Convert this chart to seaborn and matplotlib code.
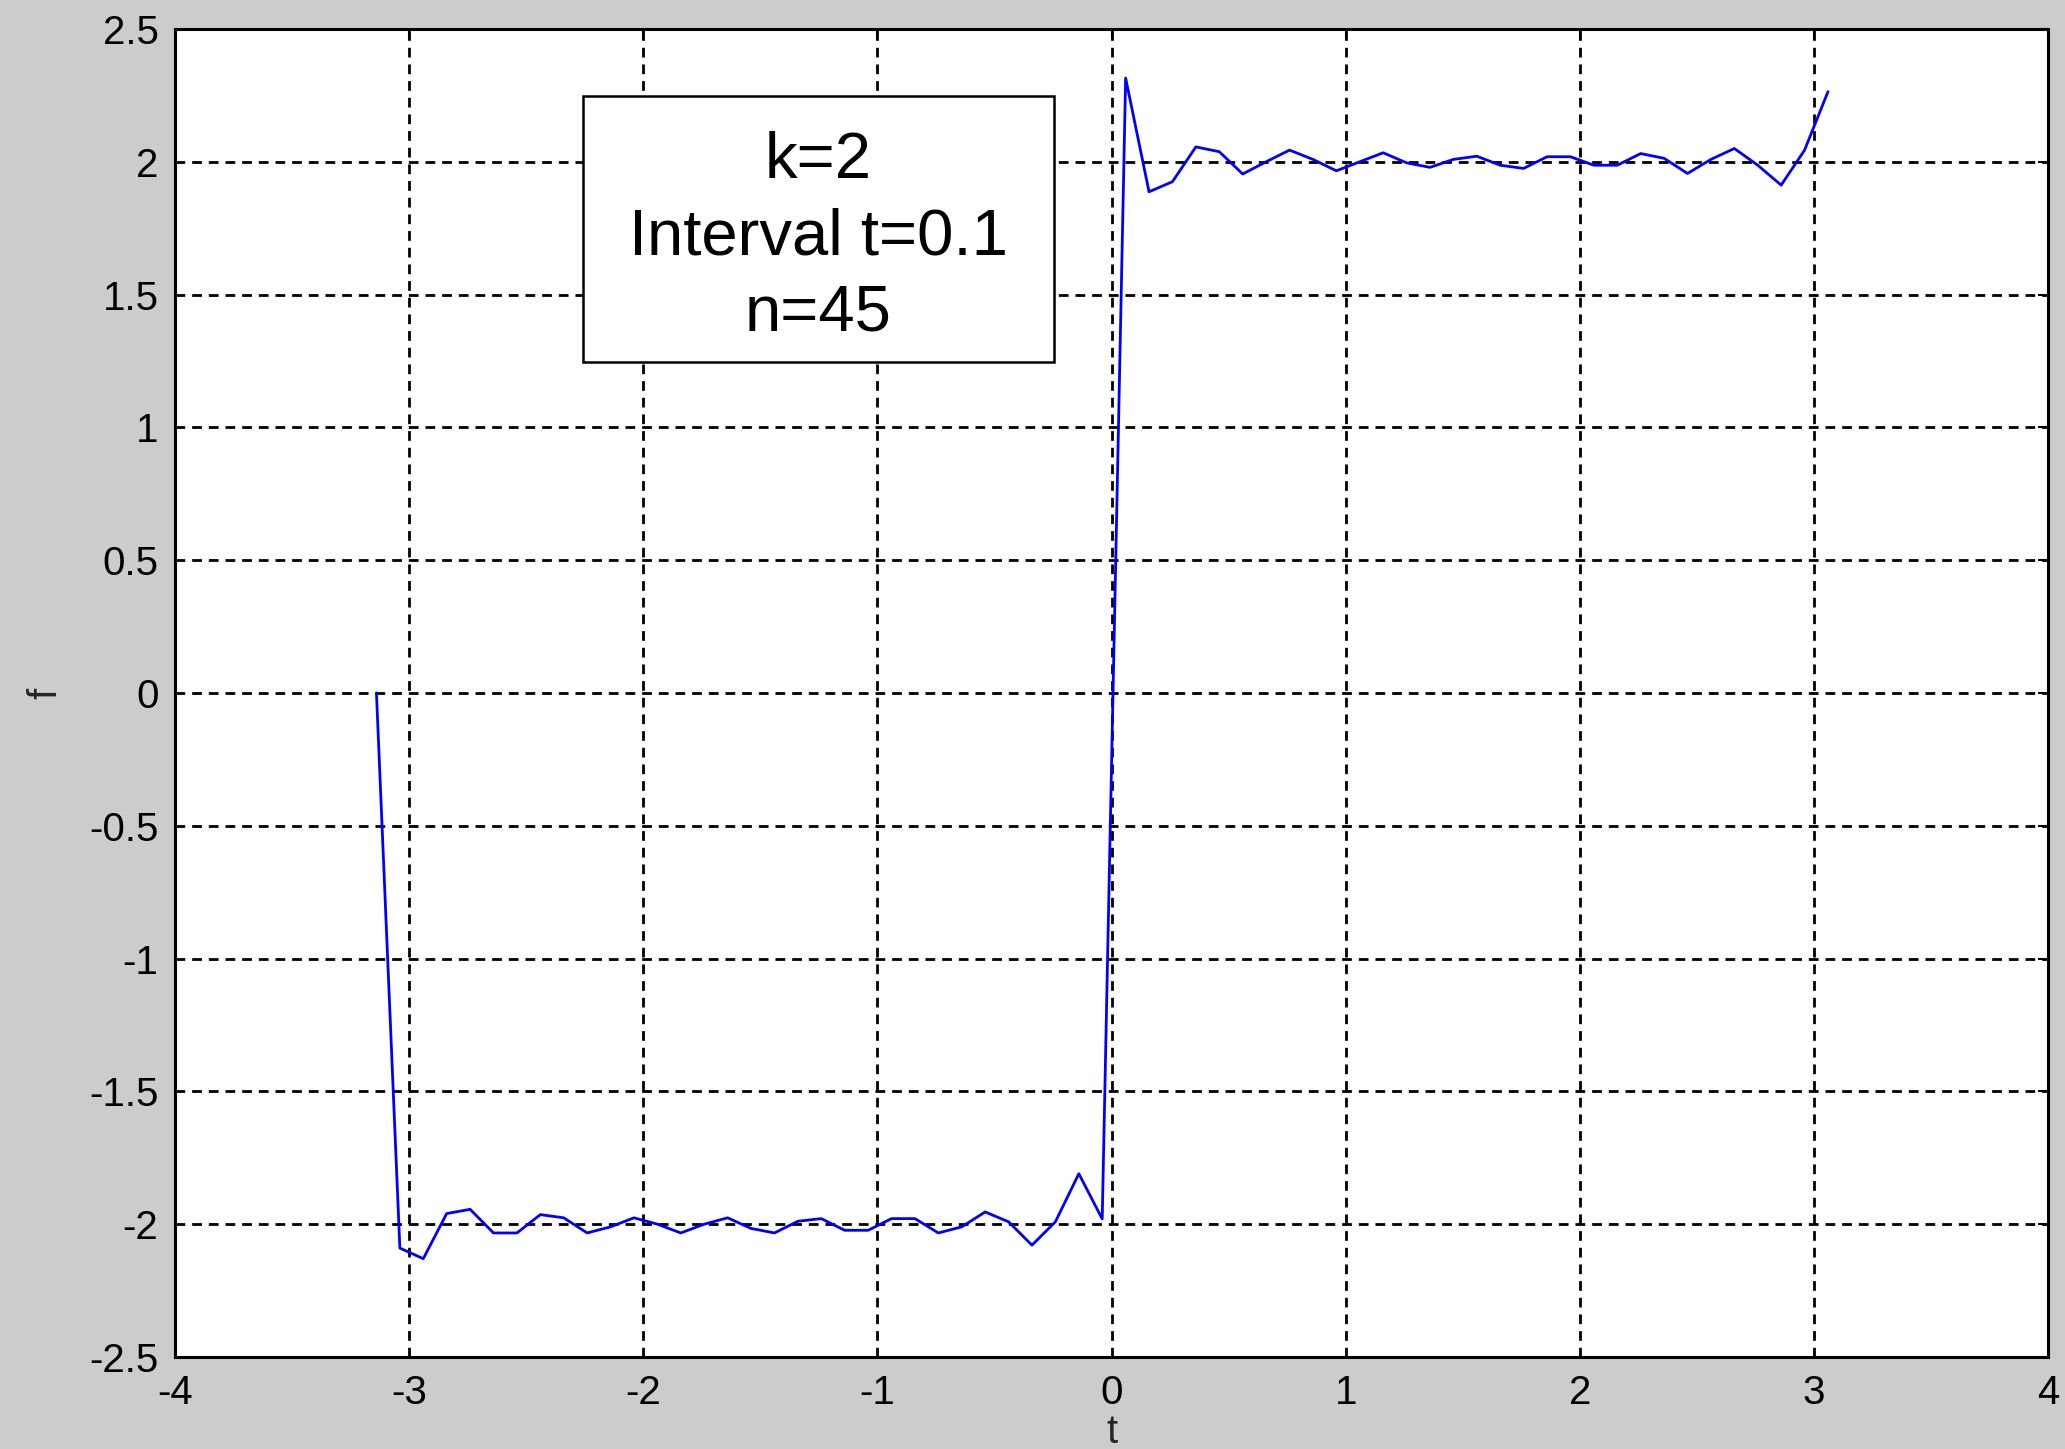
import matplotlib
matplotlib.use("Agg")
import matplotlib.pyplot as plt
import matplotlib.patches as mpatches
import seaborn as sns
import pandas as pd

# ---- data ----
t_values = [-3.14, -3.04, -2.94, -2.84, -2.74, -2.64, -2.54, -2.44, -2.34, -2.24,
            -2.14, -2.04, -1.94, -1.84, -1.74, -1.64, -1.54, -1.44, -1.34, -1.24,
            -1.14, -1.04, -0.94, -0.84, -0.74, -0.64, -0.54, -0.44, -0.34, -0.24,
            -0.14, -0.04, 0.06, 0.16, 0.26, 0.36, 0.46, 0.56, 0.66, 0.76,
            0.86, 0.96, 1.06, 1.16, 1.26, 1.36, 1.46, 1.56, 1.66, 1.76,
            1.86, 1.96, 2.06, 2.16, 2.26, 2.36, 2.46, 2.56, 2.66, 2.76,
            2.86, 2.96, 3.06]
f_values = [0.0, -2.09, -2.13, -1.96, -1.944, -2.033, -2.033, -1.964, -1.976, -2.033,
            -2.01, -1.976, -2.0, -2.033, -2.0, -1.976, -2.016, -2.033, -1.989, -1.979,
            -2.023, -2.023, -1.979, -1.979, -2.033, -2.01, -1.954, -1.991, -2.079, -1.991,
            -1.81, -1.98, 2.315, 1.887, 1.925, 2.056, 2.038, 1.954, 2.0, 2.044,
            2.009, 1.966, 2.0, 2.034, 1.996, 1.979, 2.009, 2.021, 1.987, 1.975,
            2.019, 2.019, 1.987, 1.987, 2.031, 2.013, 1.956, 2.009, 2.05, 1.987,
            1.912, 2.044, 2.264]
x_ticks = [-4, -3, -2, -1, 0, 1, 2, 3, 4]
y_ticks = [-2.5, -2, -1.5, -1, -0.5, 0, 0.5, 1, 1.5, 2, 2.5]
y_tick_labels = ["-2.5", "-2", "-1.5", "-1", "-0.5", "0", "0.5", "1", "1.5", "2", "2.5"]
x_tick_labels = ["-4", "-3", "-2", "-1", "0", "1", "2", "3", "4"]
annotation_lines = ["k=2", "Interval t=0.1", "n=45"]

df = pd.DataFrame({"t": t_values, "f": f_values})

sns.set_style("white")
plt.rcParams["font.family"] = ["Liberation Sans Narrow", "Liberation Sans", "DejaVu Sans"]
plt.rcParams["axes.unicode_minus"] = False

fig = plt.figure(figsize=(20.65, 14.49), dpi=100, facecolor="#cccccc")
ax = fig.add_axes([0.0848, 0.0635, 0.9918 - 0.0848, 0.980 - 0.0635])
ax.set_facecolor("white")

sns.lineplot(data=df, x="t", y="f", ax=ax, color="#0000ff", linewidth=2.0,
             sort=False, estimator=None)

ax.set_xlim(-4, 4)
ax.set_ylim(-2.5, 2.5)
ax.set_xticks(x_ticks)
ax.set_xticklabels(x_tick_labels)
ax.set_yticks(y_ticks)
ax.set_yticklabels(y_tick_labels)

ax.grid(True, color="black", linestyle=(0, (3.5, 2.5)), linewidth=2.0)
for s in ax.spines.values():
    s.set_visible(True)
    s.set_color("black")
    s.set_linewidth(2.2)

ax.tick_params(axis="both", which="major", direction="in", length=7, width=1.5,
               top=True, right=True, labelsize=29, colors="black", pad=12)

ax.set_xlabel("t", fontsize=29, labelpad=1)
ax.set_ylabel("f", fontsize=29, labelpad=18)

# annotation box
rect = mpatches.Rectangle((-2.257, 1.246), 2.012, 1.002, facecolor="white",
                          edgecolor="black", linewidth=1.8, zorder=5)
ax.add_patch(rect)
for line, yy in zip(annotation_lines, [2.004, 1.716, 1.429]):
    ax.text(-1.253, yy, line, ha="center", va="center", fontsize=47,
            family=["Liberation Sans", "DejaVu Sans"], zorder=6, color="black")

fig.savefig("out.png", dpi=100, facecolor=fig.get_facecolor())
